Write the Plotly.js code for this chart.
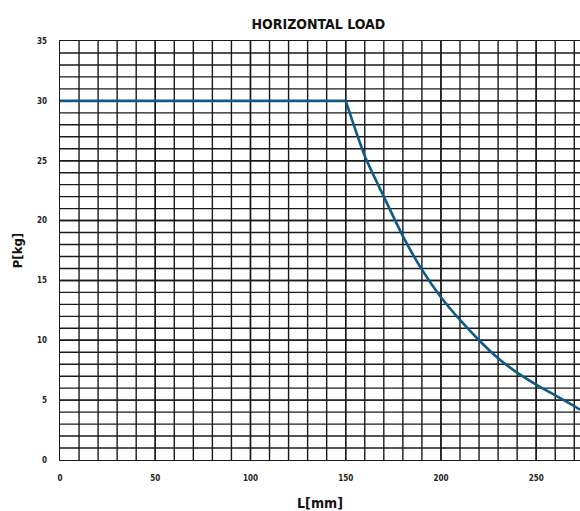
<!DOCTYPE html>
<html>
<head>
<meta charset="utf-8">
<script src="https://cdn.plot.ly/plotly-3.0.1.min.js"></script>
<style>
html,body{margin:0;padding:0;background:#fff;}
#chart{width:580px;height:511px;}
#chart .gridlayer path, #chart .minor-gridlayer path {shape-rendering: auto !important;}
</style>
</head>
<body>
<div id="chart"></div>
<script>
// Data
var flatLength = [0, 150];
var flatLoad   = [30, 30];
var curveLength = [150, 160, 170, 180, 190, 200, 210, 220, 230, 240, 250, 260, 270, 273];
var curveLoad   = [30, 25.4, 22.0, 18.7, 15.9, 13.6, 11.7, 10.0, 8.5, 7.3, 6.3, 5.4, 4.5, 4.2];
var xTicks = [0, 50, 100, 150, 200, 250];
var yTicks = [0, 5, 10, 15, 20, 25, 30, 35];

var lineStyle = {color: '#0f5a86', width: 2.6};

var traces = [
  {x: flatLength, y: flatLoad, type: 'scatter', mode: 'lines', line: lineStyle, hoverinfo: 'skip'},
  {x: curveLength, y: curveLoad, type: 'scatter', mode: 'lines',
   line: {color: lineStyle.color, width: lineStyle.width, shape: 'spline', smoothing: 0.6}, hoverinfo: 'skip'}
];

var tickFont = {family: 'DejaVu Sans Condensed, DejaVu Sans, sans-serif', size: 8, color: '#222', weight: 'bold'};
var gridCol = '#1a1a1a';

var layout = {
  width: 580,
  height: 511,
  margin: {l: 60, r: 0, t: 41, b: 51},
  paper_bgcolor: '#ffffff',
  plot_bgcolor: '#ffffff',
  showlegend: false,
  title: {
    text: '<b>HORIZONTAL LOAD</b>',
    font: {family: 'Liberation Sans Narrow, DejaVu Sans Condensed, sans-serif', size: 14, color: '#111'},
    x: 0.549, xanchor: 'center', y: 0.953, yanchor: 'middle'
  },
  xaxis: {
    range: [0, 273],
    tickvals: xTicks,
    ticktext: xTicks.map(String),
    tickfont: tickFont,
    ticks: '',
    ticklen: 0,
    ticklabelstandoff: 10,
    showgrid: true,
    gridcolor: gridCol,
    gridwidth: 1.4,
    minor: {dtick: 10, tick0: 0, showgrid: true, gridcolor: gridCol, gridwidth: 1.4},
    showline: true, linecolor: gridCol, linewidth: 1.4, mirror: true,
    zeroline: false,
    title: {text: '<b>L[mm]</b>', font: {family: 'DejaVu Sans Condensed, DejaVu Sans, sans-serif', size: 14, color: '#111'}, standoff: 17}
  },
  yaxis: {
    range: [0, 35],
    tickvals: yTicks,
    ticktext: yTicks.map(String),
    tickfont: tickFont,
    ticks: '',
    ticklen: 0,
    ticklabelstandoff: 10,
    showgrid: true,
    gridcolor: gridCol,
    gridwidth: 1.4,
    minor: {dtick: 1, tick0: 0, showgrid: true, gridcolor: gridCol, gridwidth: 1.4},
    showline: true, linecolor: gridCol, linewidth: 1.4, mirror: true,
    zeroline: false,
    title: {text: '<b>P[kg]</b>', font: {family: 'DejaVu Sans Condensed, DejaVu Sans, sans-serif', size: 13, color: '#111'}, standoff: 11}
  }
};

Plotly.newPlot('chart', traces, layout, {staticPlot: true, displayModeBar: false}).then(function(){
  document.querySelectorAll('#chart .gridlayer path, #chart .minor-gridlayer path').forEach(function(p){
    p.style.shapeRendering = 'auto';
  });
});
</script>
</body>
</html>
